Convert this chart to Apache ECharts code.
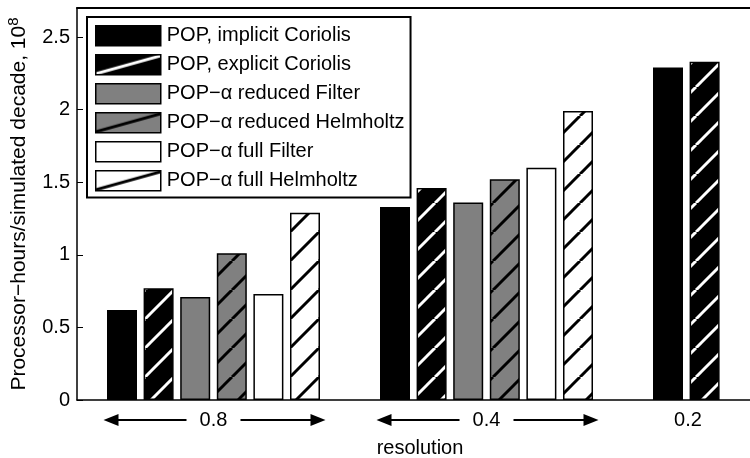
<!DOCTYPE html>
<html>
<head>
<meta charset="utf-8">
<script src="https://cdn.jsdelivr.net/npm/echarts@6/dist/echarts.min.js"></script>
<style>
  html, body { margin: 0; padding: 0; background: #fff; overflow: hidden; }
  /* the figure is cropped on the right, so the chart is wider than the window */
  #main { width: 896px; height: 458px; }
</style>
</head>
<body>
<div id="main"></div>
<script>
// resolution categories (0.2 only has the two POP runs)
const categories = ['0.8', '0.4', '0.2'];
const names = [
  'POP, implicit Coriolis',
  'POP, explicit Coriolis',
  'POP\u2212\u03b1 reduced Filter',
  'POP\u2212\u03b1 reduced Helmholtz',
  'POP\u2212\u03b1 full Filter',
  'POP\u2212\u03b1 full Helmholtz'
];
const popImplicit = [0.62, 1.33, 2.29];
const popExplicit = [0.77, 1.46, 2.33];
const alphaRedFilter = [0.71, 1.36, null];
const alphaRedHelm = [1.01, 1.52, null];
const alphaFullFilter = [0.73, 1.60, null];
const alphaFullHelm = [1.29, 1.99, null];
const allValues = [popImplicit, popExplicit, alphaRedFilter, alphaRedHelm, alphaFullFilter, alphaFullHelm];

const FONT = '"Liberation Sans", Arial, Helvetica, sans-serif';

// diagonal hatch pattern for the bars
function hatch(bg, fg) {
  const s = 29;
  const c = document.createElement('canvas');
  c.width = s; c.height = s;
  const ctx = c.getContext('2d');
  ctx.fillStyle = bg;
  ctx.fillRect(0, 0, s, s);
  ctx.strokeStyle = fg;
  ctx.lineWidth = 3;
  [-s, 0, s].forEach(x0 => {
    ctx.beginPath();
    ctx.moveTo(x0, s);
    ctx.lineTo(x0 + s, 0);
    ctx.stroke();
  });
  return { image: c, repeat: 'repeat' };
}

// single stroke for the legend swatch
function iconHatch(bg, fg) {
  const c = document.createElement('canvas');
  c.width = 65; c.height = 20;
  const ctx = c.getContext('2d');
  ctx.fillStyle = bg;
  ctx.fillRect(0, 0, 65, 20);
  ctx.strokeStyle = fg;
  ctx.lineWidth = 3;
  ctx.beginPath();
  ctx.moveTo(0, 19);
  ctx.lineTo(65, 1);
  ctx.stroke();
  return { image: c, repeat: 'no-repeat' };
}

const fills = [
  '#000000',
  hatch('#000000', '#ffffff'),
  '#808080',
  hatch('#808080', '#000000'),
  '#ffffff',
  hatch('#ffffff', '#000000')
];
const iconFills = [
  '#000000',
  iconHatch('#000000', '#ffffff'),
  '#808080',
  iconHatch('#808080', '#000000'),
  '#ffffff',
  iconHatch('#ffffff', '#000000')
];

const chart = echarts.init(document.getElementById('main'));

const series = names.map((name, i) => ({
  name: name,
  type: 'bar',
  data: allValues[i],
  barWidth: 30,
  barGap: '22%',
  itemStyle: { color: fills[i], borderColor: '#000', borderWidth: 1.5 },
  z: 2
}));

const option = {
  animation: false,
  backgroundColor: '#fff',
  textStyle: { fontFamily: FONT, color: '#000' },
  grid: { left: 77, top: 8, bottom: 58, right: 0, outerBoundsMode: 'none', containLabel: false },
  title: {
    text: 'resolution',
    left: 415,
    top: 433,
    textAlign: 'center',
    textStyle: { fontFamily: FONT, fontSize: 20, fontWeight: 'normal', color: '#000' }
  },
  legend: {
    orient: 'vertical',
    left: 87,
    top: 17,
    padding: [8, 6, 6, 8],
    itemWidth: 65,
    itemHeight: 20,
    itemGap: 7.5,
    icon: 'rect',
    backgroundColor: '#fff',
    borderColor: '#000',
    borderWidth: 2,
    borderRadius: 0,
    z: 10,
    selectedMode: false,
    textStyle: { fontFamily: FONT, fontSize: 20, color: '#000', lineHeight: 20, padding: [0, 0, 0, 1] },
    data: names.map((n, i) => ({ name: n, itemStyle: { color: iconFills[i], borderColor: '#000', borderWidth: 1.5 } }))
  },
  xAxis: [
    {
      type: 'category',
      data: [
        '0.8',
        '0.4',
        { value: '0.2', textStyle: { padding: [0, 143, 0, 0] } }
      ],
      position: 'bottom',
      axisLine: { lineStyle: { color: '#000', width: 1.5 } },
      axisTick: { inside: true, alignWithLabel: true, length: 6, lineStyle: { color: '#000', width: 1 } },
      axisLabel: { fontFamily: FONT, fontSize: 20, color: '#000', margin: 10 },
      splitLine: { show: false }
    },
    {
      type: 'category',
      data: categories,
      position: 'top',
      axisLine: { lineStyle: { color: '#000', width: 2 } },
      axisTick: { inside: true, alignWithLabel: true, length: 6, lineStyle: { color: '#000', width: 1 } },
      axisLabel: { show: false },
      splitLine: { show: false }
    }
  ],
  yAxis: {
    type: 'value',
    min: 0,
    max: 2.7,
    interval: 0.5,
    name: 'Processor\u2212hours/simulated decade, 10{sup|8}',
    nameLocation: 'middle',
    nameGap: 44,
    nameTextStyle: {
      fontFamily: FONT, fontSize: 21, color: '#000',
      rich: { sup: { fontFamily: FONT, fontSize: 15, color: '#000', padding: [0, 0, 12, 0] } }
    },
    axisLine: { show: true, lineStyle: { color: '#000', width: 1.5 } },
    axisTick: { show: true, inside: true, length: 6, lineStyle: { color: '#000', width: 1 } },
    axisLabel: { fontFamily: FONT, fontSize: 20, color: '#000', margin: 7, showMaxLabel: false },
    splitLine: { show: false }
  },
  series: series
};

chart.setOption(option);

// arrows on both sides of the 0.8 and 0.4 labels
const arrowY = 420;
const graphics = [];
['0.8', '0.4'].forEach(cat => {
  const c = chart.convertToPixel({ xAxisIndex: 0 }, cat);
  graphics.push(
    { type: 'line', shape: { x1: c - 96, y1: arrowY, x2: c - 27, y2: arrowY }, style: { stroke: '#000', lineWidth: 2 } },
    { type: 'polygon', shape: { points: [[c - 110, arrowY], [c - 95, arrowY - 6], [c - 95, arrowY + 6]] }, style: { fill: '#000' } },
    { type: 'line', shape: { x1: c + 27, y1: arrowY, x2: c + 98, y2: arrowY }, style: { stroke: '#000', lineWidth: 2 } },
    { type: 'polygon', shape: { points: [[c + 112, arrowY], [c + 97, arrowY - 6], [c + 97, arrowY + 6]] }, style: { fill: '#000' } }
  );
});
chart.setOption({ graphic: graphics });
</script>
</body>
</html>
